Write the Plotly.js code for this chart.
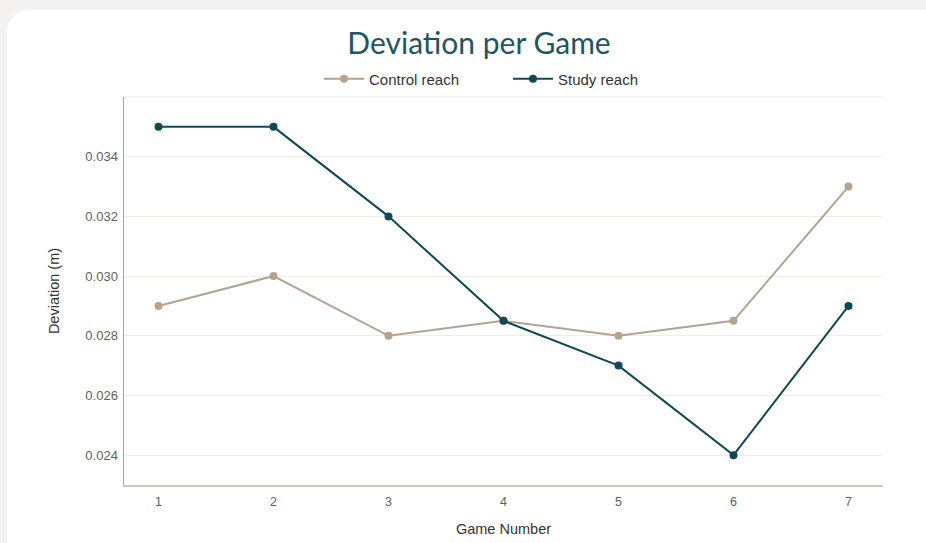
<!DOCTYPE html>
<html>
<head>
<meta charset="utf-8">
<script src="https://cdn.plot.ly/plotly-3.0.1.min.js"></script>
<style>
  html, body { margin: 0; padding: 0; width: 926px; height: 543px; overflow: hidden; background: #f4f3f1; }
  #card { position: absolute; left: 7px; top: 10px; width: 960px; height: 600px; background: #ffffff; border-radius: 22px; }
  #chart { position: absolute; left: 0; top: 0; width: 926px; height: 543px; }
</style>
</head>
<body>
<div id="card"></div>
<div id="chart"></div>
<script>
const games = [1, 2, 3, 4, 5, 6, 7];
const controlReach = [0.029, 0.030, 0.028, 0.0285, 0.028, 0.0285, 0.033];
const studyReach = [0.035, 0.035, 0.032, 0.0285, 0.027, 0.024, 0.029];
const yTicks = [0.024, 0.026, 0.028, 0.030, 0.032, 0.034];

const sans = '"Liberation Sans", Arial, sans-serif';

const traces = [
  {
    x: games, y: controlReach, name: 'Control reach', type: 'scatter', mode: 'lines+markers',
    line: { color: '#b5a290', width: 2 }, marker: { color: '#b5a290', size: 8 }
  },
  {
    x: games, y: studyReach, name: 'Study reach', type: 'scatter', mode: 'lines+markers',
    line: { color: '#0f4956', width: 2 }, marker: { color: '#0f4956', size: 8 }
  }
];

const layout = {
  width: 926, height: 543,
  paper_bgcolor: 'rgba(0,0,0,0)', plot_bgcolor: 'rgba(0,0,0,0)',
  margin: { l: 124, r: 43, t: 97, b: 58 },
  title: {
    text: 'Deviation per Game',
    font: { family: 'Lato, "Noto Sans", sans-serif', size: 30, color: '#1e5661' },
    xref: 'container', x: 479 / 926, xanchor: 'center',
    yref: 'container', y: 1 - 43 / 543, yanchor: 'middle'
  },
  showlegend: true,
  legend: {
    orientation: 'h', x: (319 - 124) / 759, xanchor: 'left', y: 1 + 18 / 388, yanchor: 'middle',
    font: { family: sans, size: 15, color: '#333333' },
    itemwidth: 40,
    entrywidth: 134, entrywidthmode: 'pixels'
  },
  xaxis: {
    range: [0.7, 7.3], tickvals: games, ticktext: games.map(String),
    showgrid: false, zeroline: false,
    showline: true, linecolor: '#cbc6c0', linewidth: 2,
    ticks: '', ticklen: 0, ticklabelstandoff: 4,
    tickfont: { family: sans, size: 12.5, color: '#606060' },
    title: { text: 'Game Number', standoff: 16, font: { family: sans, size: 14.5, color: '#333333' } }
  },
  yaxis: {
    range: [0.023, 0.036], tickvals: yTicks, ticktext: yTicks.map(v => v.toFixed(3)),
    showgrid: true, gridcolor: '#efede8', gridwidth: 1, zeroline: false,
    showline: true, linecolor: '#b5a290', linewidth: 1.5,
    ticks: '', ticklen: 0, ticklabelstandoff: 2,
    tickfont: { family: sans, size: 13, color: '#606060' },
    title: { text: 'Deviation (m)', standoff: 22, font: { family: sans, size: 14.5, color: '#333333' } }
  },
  shapes: [
    { type: 'line', xref: 'paper', yref: 'paper', x0: 0, x1: 1, y0: 1, y1: 1, line: { color: '#f1efeb', width: 1 }, layer: 'below' }
  ]
};

Plotly.newPlot('chart', traces, layout, { displayModeBar: false, staticPlot: true });
</script>
</body>
</html>
